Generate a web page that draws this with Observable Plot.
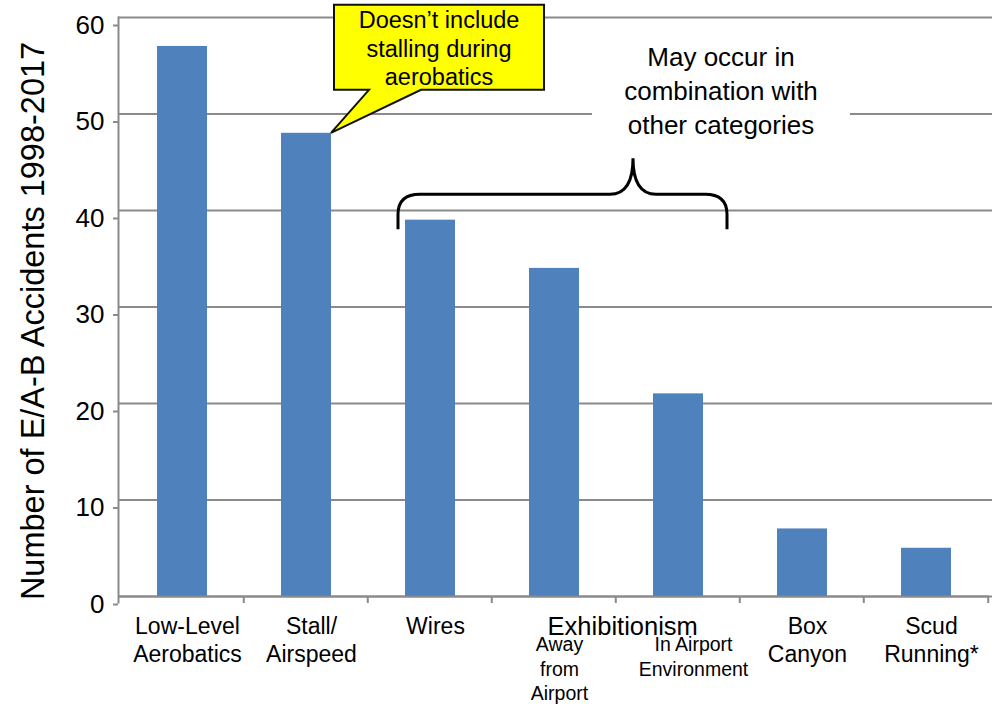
<!DOCTYPE html>
<html>
<head>
<meta charset="utf-8">
<script src="https://cdn.jsdelivr.net/npm/d3@7"></script>
<script src="https://cdn.jsdelivr.net/npm/@observablehq/plot@0.6"></script>
<style>
  body { margin: 0; background: #fff; }
  #chart svg { display: block; font-family: "Liberation Sans", Arial, sans-serif; }
</style>
</head>
<body>
<div id="chart"></div>
<script>
// Accident categories and counts, 1998-2017
const categories = [
  "Low-Level Aerobatics",
  "Stall/Airspeed",
  "Wires",
  "Exhibitionism: Away from Airport",
  "Exhibitionism: In Airport Environment",
  "Box Canyon",
  "Scud Running*"
];
const accidents = [57, 48, 39, 34, 21, 7, 5];
const mainLabels = ["Low-Level\nAerobatics", "Stall/\nAirspeed", "Wires", "", "", "Box\nCanyon", "Scud\nRunning*"];
const subLabels = ["", "", "", "Away\nfrom\nAirport", "In Airport\nEnvironment", "", ""];
const groupLabel = "Exhibitionism";
const yTicks = [0, 10, 20, 30, 40, 50, 60];
const yTitle = "Number of E/A-B Accidents 1998-2017";
const calloutText = ["Doesn’t include", "stalling during", "aerobatics"];
const braceText = ["May occur in", "combination with", "other categories"];

const rows = categories.map((c, i) => ({category: c, count: accidents[i], main: mainLabels[i], sub: subLabels[i]}));

const W = 994, H = 704;
const mL = 118, mR = 5, mT = 17, mB = 108;
const step = (W - mL - mR) / categories.length;
const grey = "#8a8a8a";

const subStyle = {x: "category", y: 0, text: "sub", fontSize: 19.5, lineAnchor: "top", lineHeight: 1.26, dy: 37, fill: "black"};

const chart = Plot.plot({
  width: W,
  height: H,
  marginLeft: mL,
  marginRight: mR,
  marginTop: mT,
  marginBottom: mB,
  style: {fontFamily: "'Liberation Sans', Arial, sans-serif", background: "white", overflow: "visible"},
  x: {domain: categories, paddingInner: 0.6, paddingOuter: 0.3, axis: null},
  y: {domain: [0, 60], axis: null},
  marks: [
    Plot.gridY(yTicks, {stroke: grey, strokeOpacity: 1, strokeWidth: 2, insetRight: -3}),
    Plot.barY(rows, {x: "category", y: "count", fill: "#4f81bd"}),
    Plot.ruleY([0], {stroke: grey, strokeWidth: 2}),
    Plot.frame({anchor: "left", stroke: grey, strokeWidth: 2, insetBottom: -6}),
    Plot.axisY(yTicks, {
      anchor: "left", tickSize: 5, tickPadding: 9, fontSize: 26,
      stroke: grey, strokeWidth: 2, fill: "black", dy: 8, label: null
    }),
    Plot.text([yTitle], {
      frameAnchor: "left", textAnchor: "middle", rotate: -90,
      dx: -85, dy: 14, fontSize: 32.5, fill: "black"
    }),
    // category labels under the axis
    Plot.text(rows.filter(d => d.main), {
      x: "category", y: 0, text: "main", fontSize: 23, lineAnchor: "top", lineHeight: 1.22,
      dy: 18, dx: 5, fill: "black"
    }),
    Plot.text(rows.slice(3, 4), {...subStyle, dx: 5}),
    Plot.text(rows.slice(4, 5), {...subStyle, dx: 15}),
    Plot.text([groupLabel], {
      x: () => categories[3], y: 0, text: d => d, fontSize: 25.5, lineAnchor: "top",
      dy: 20, dx: step / 2 + 6, fill: "black"
    })
  ]
});

document.getElementById("chart").appendChild(chart);

// Axis tick marks at category boundaries, and annotations placed from the scales
const svg = d3.select(chart);
const xs = chart.scale("x");
const ys = chart.scale("y");
const bw = xs.bandwidth;
const gap = (step - bw) / 2;
const y0 = ys.apply(0);

const bounds = categories.slice(1).map(c => xs.apply(c) - gap)
  .concat([xs.apply(categories[categories.length - 1]) + bw + gap]);
svg.append("g")
  .attr("stroke", grey).attr("stroke-width", 2)
  .selectAll("line").data(bounds).join("line")
  .attr("x1", d => d).attr("x2", d => d)
  .attr("y1", y0).attr("y2", y0 + 7);

// Callout pointing at the Stall/Airspeed bar
const tx = xs.apply("Stall/Airspeed") + bw;
const ty = ys.apply(48);
const box = {left: tx + 3, right: tx + 213, top: ty - 128, bottom: ty - 43};
svg.append("path")
  .attr("d", `M${box.left},${box.top} H${box.right} V${box.bottom} H${tx + 90} L${tx},${ty} L${tx + 38},${box.bottom} H${box.left} Z`)
  .attr("fill", "#ffff00").attr("stroke", "#111").attr("stroke-width", 2).attr("stroke-linejoin", "miter");
svg.append("text")
  .attr("text-anchor", "middle").attr("font-size", 23.5).attr("fill", "black")
  .selectAll("tspan").data(calloutText).join("tspan")
  .attr("x", (box.left + box.right) / 2)
  .attr("y", (d, i) => box.top + 23.5 + i * 28.5)
  .text(d => d);

// Brace spanning Wires through Exhibitionism
const xL = xs.apply("Wires") - 7;
const xR = xs.apply("Exhibitionism: In Airport Environment") + bw + 24;
const xP = xL + 235;
const yEnd = ys.apply(38);
const yBar = yEnd - 35;
const yPeak = yEnd - 71;
svg.append("path")
  .attr("d", `M${xL},${yEnd} V${yBar + 20} Q${xL},${yBar} ${xL + 22},${yBar} H${xP - 23} Q${xP},${yBar} ${xP},${yPeak} Q${xP},${yBar} ${xP + 23},${yBar} H${xR - 22} Q${xR},${yBar} ${xR},${yBar + 20} V${yEnd}`)
  .attr("fill", "none").attr("stroke", "black").attr("stroke-width", 3);

const bx = xR - 6;
svg.append("rect")
  .attr("x", bx - 129).attr("y", yPeak - 122).attr("width", 258).attr("height", 104)
  .attr("fill", "white");
svg.append("text")
  .attr("text-anchor", "middle").attr("font-size", 26).attr("fill", "black")
  .selectAll("tspan").data(braceText).join("tspan")
  .attr("x", bx)
  .attr("y", (d, i) => yPeak - 92 + i * 34)
  .text(d => d);
</script>
</body>
</html>
